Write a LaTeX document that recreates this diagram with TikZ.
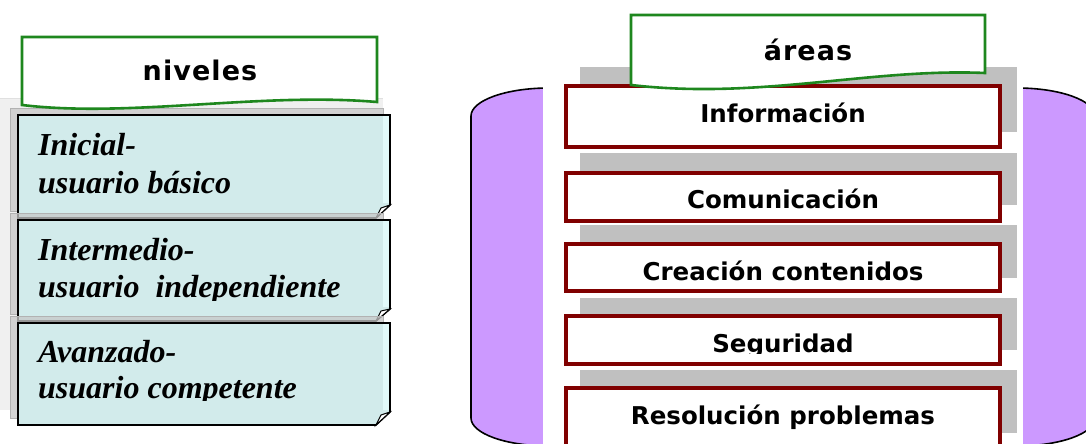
\documentclass[tikz,border=0pt]{standalone}
\usepackage{fontspec}
\setmainfont{Liberation Serif}
\newfontfamily\boxfont{DejaVu Sans}
\newfontfamily\tagfont[LetterSpace=4]{DejaVu Sans}
\definecolor{cardfill}{RGB}{210,235,235}
\definecolor{cardlight}{RGB}{226,250,250}
\definecolor{tagline}{RGB}{30,135,30}
\definecolor{boxred}{RGB}{128,0,0}
\definecolor{lilac}{RGB}{204,153,255}
\definecolor{shade}{RGB}{192,192,192}
\tikzset{
  cardshadow/.style={fill=black!22, fill opacity=0.75, draw=black!30, line width=0.6pt},
  cardbody/.style={fill=cardfill, draw=black, line width=1.6pt, line join=miter},
  cardtext/.style={anchor=base west, inner sep=0pt, font=\fontsize{32}{38}\selectfont\bfseries\itshape},
  tagshape/.style={fill=white, draw=tagline, line width=2.6pt},
  tagtext/.style={anchor=base, inner sep=0pt, font=\fontsize{27}{30}\selectfont\tagfont\bfseries},
  greybar/.style={fill=shade, draw=none},
  areabox/.style={fill=white, draw=boxred, line width=3.2pt},
  areatext/.style={anchor=base, inner sep=0pt, font=\fontsize{24.5}{28}\selectfont\boxfont\bfseries},
}
\begin{document}
\begin{tikzpicture}[x=1pt,y=-1pt]
\clip (0,0) rectangle (1086,444);
\fill[white] (0,0) rectangle (1086,444);

% ---------------- left: niveles ----------------
\fill[black!6] (0,98) rectangle (383,410);
\draw[black!12, line width=0.6pt] (0,98) -- (383,98);

% card 1
\path[cardshadow] (10,108) rectangle (383,211);
\path[cardbody] (18,115) -- (390,115) -- (390,205) -- (376,218) -- (18,218) -- cycle;
\fill[cardlight] (383,116) rectangle (389,203);
\path[fill=white, draw=black, line width=1pt] (376,218) -- (381,208) -- (390,205) -- cycle;
\begin{scope}
\clip (18,115) rectangle (390,200);
\node[cardtext] (n1a) at (38,155) {Inicial-};
\node[cardtext] (n1b) at (38,193) {usuario básico};
\end{scope}

% card 2
\path[cardshadow] (10,213) rectangle (383,314);
\path[cardbody] (18,220) -- (390,220) -- (390,309) -- (376,321) -- (18,321) -- cycle;
\fill[cardlight] (383,221) rectangle (389,307);
\path[fill=white, draw=black, line width=1pt] (376,321) -- (381,311) -- (390,309) -- cycle;
\begin{scope}
\clip (18,220) rectangle (390,300);
\node[cardtext] (n2a) at (38,260) {Intermedio-};
\node[cardtext] (n2b) at (38,297) {usuario\ \ independiente};
\end{scope}

% card 3
\path[cardshadow] (10,316) rectangle (383,418);
\path[cardbody] (18,323) -- (390,323) -- (390,412) -- (376,425) -- (18,425) -- cycle;
\fill[cardlight] (383,324) rectangle (389,410);
\path[fill=white, draw=black, line width=1pt] (376,425) -- (381,415) -- (390,412) -- cycle;
\begin{scope}
\clip (18,323) rectangle (390,400);
\node[cardtext] (n3a) at (38,362) {Avanzado-};
\node[cardtext] (n3b) at (38,398) {usuario competente};
\end{scope}

% tag niveles
\path[tagshape] (22,37) -- (377,37) -- (377,102)
  .. controls (260,92) and (130,118) .. (22,105) -- cycle;
\node[tagtext] (niveles) at (200,80) {niveles};

% ---------------- right: areas ----------------
\path[fill=lilac, draw=black, line width=1.6pt]
  (471,116) .. controls (471,100.5) and (506,88) .. (549,88)
  -- (1017,88) .. controls (1060,88) and (1095,100.5) .. (1095,116)
  -- (1095,418) .. controls (1095,433.5) and (1060,446) .. (1017,446)
  -- (549,446) .. controls (506,446) and (471,433.5) .. (471,418) -- cycle;
\fill[white] (543,80) rectangle (1023,450);

\fill[greybar] (580,67) rectangle (1017,132);
\fill[greybar] (580,153) rectangle (1017,205);
\fill[greybar] (580,225) rectangle (1017,278);
\fill[greybar] (580,298) rectangle (1017,350);
\fill[greybar] (580,370) rectangle (1017,433);

\path[areabox] (566,86) rectangle (1000,147);
\node[areatext] (info) at (783,122) {Información};

\path[areabox] (566,173) rectangle (1000,221);
\node[areatext] (comu) at (783,208) {Comunicación};

\path[areabox] (566,244) rectangle (1000,291);
\node[areatext] (crea) at (783,280) {Creación contenidos};

\path[areabox] (566,316) rectangle (1000,364);
\begin{scope}
\clip (566,316) rectangle (1000,353);
\node[areatext] (segu) at (783,352) {Seguridad};
\end{scope}

\path[areabox] (566,388) rectangle (1000,460);
\node[areatext] (reso) at (783,424) {Resolución problemas};

% tag areas
\path[tagshape] (631,15) -- (985,15) -- (985,73)
  .. controls (870,68) and (760,100) .. (631,85) -- cycle;
\node[tagtext] (areas) at (808,60) {áreas};
\end{tikzpicture}
\end{document}
